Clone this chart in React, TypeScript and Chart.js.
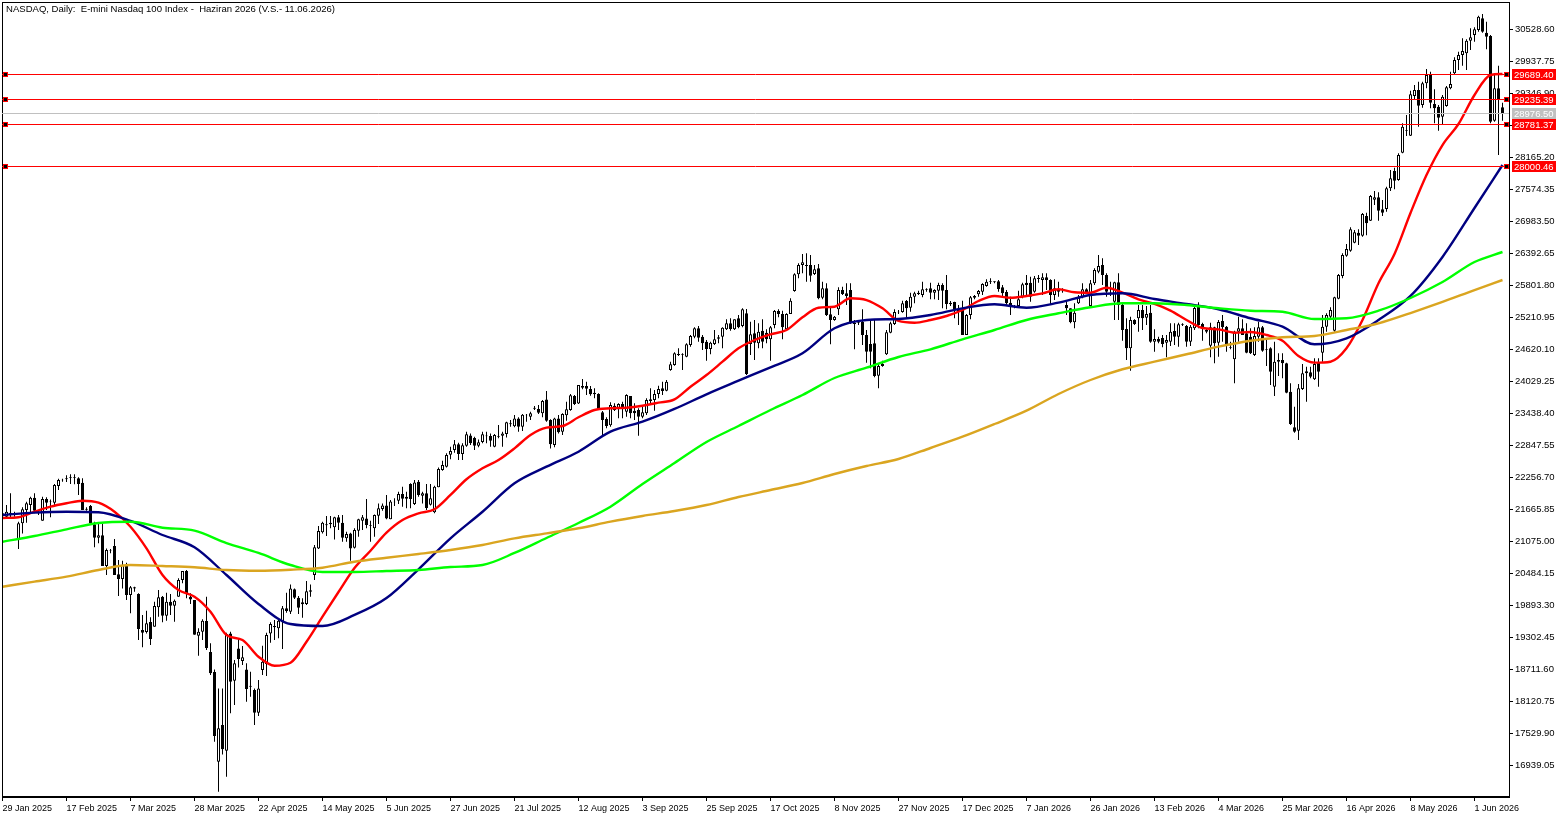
import { useEffect, useRef } from 'react';
import { Chart, registerables } from 'chart.js';

Chart.register(...registerables);

const chartTitle = 'NASDAQ, Daily:  E-mini Nasdaq 100 Index -  Haziran 2026 (V.S.- 11.06.2026)';

// One label every 16 daily bars
const dateLabels = [
  '29 Jan 2025', '17 Feb 2025', '7 Mar 2025', '28 Mar 2025', '22 Apr 2025', '14 May 2025', '5 Jun 2025', '27 Jun 2025',
  '21 Jul 2025', '12 Aug 2025', '3 Sep 2025', '25 Sep 2025', '17 Oct 2025', '8 Nov 2025', '27 Nov 2025', '17 Dec 2025',
  '7 Jan 2026', '26 Jan 2026', '13 Feb 2026', '4 Mar 2026', '25 Mar 2026', '16 Apr 2026', '8 May 2026', '1 Jun 2026',
];

const priceTicks = [
  30528.6, 29937.75, 29346.9, 28756.05, 28165.2, 27574.35, 26983.5, 26392.65, 25801.8, 25210.95, 24620.1, 24029.25,
  23438.4, 22847.55, 22256.7, 21665.85, 21075, 20484.15, 19893.3, 19302.45, 18711.6, 18120.75, 17529.9, 16939.05,
];

const opens = [
  21543,21530,21580,21580,21099,21407,21653,21746,21881,21623,21456,21857,21801,21789,22097,22201,
  22238,22251,22245,22238,22158,21678,21727,21389,21142,21186,20619,20896,20989,20465,20379,20638,
  20083,20225,20102,19437,19400,19585,19498,19856,20053,19702,19960,19886,20053,20360,20527,20053,
  19991,19332,19406,19603,19031,18661,17005,17682,17208,19375,18501,19098,18864,18710,18409,18329,
  17910,18698,18809,19375,19511,19468,19579,19837,19776,20188,20034,19911,19917,20170,20453,20945,
  21241,21389,21389,21333,21518,21419,21130,21222,20958,21272,21456,21499,21376,21315,21549,21672,
  21739,21481,21795,21826,21949,21863,22133,21764,22177,21918,21961,21752,21610,22072,22392,22454,
  22675,22761,22866,22688,22842,23032,22983,22842,22909,23014,23020,22823,23002,23026,23057,23236,
  23199,23346,23192,23402,23377,23543,23519,23439,23697,23316,22854,23346,23100,23402,23500,23759,
  23623,23944,23944,23888,23820,23796,23457,23334,23218,23581,23532,23612,23470,23760,23489,23501,
  23378,23439,23667,23686,23796,23901,23858,24240,24332,24517,24529,24486,24702,24855,25009,24855,
  24763,24628,24720,24819,24855,24991,25102,24991,25194,25053,25286,24720,24917,24732,24966,24929,
  24806,25071,25330,25274,24991,25274,25699,26007,26179,26179,26179,26013,26118,25576,25748,25268,
  25163,25360,25717,25656,25717,25089,25120,25133,24886,24720,24732,24135,24314,24529,24929,25089,
  25305,25311,25514,25391,25594,25644,25625,25736,25748,25668,25705,25810,25717,25483,25496,25360,
  25348,24886,25256,25607,25637,25687,25791,25865,25878,25878,25767,25681,25483,25416,25422,25594,
  25853,25853,25687,25945,25902,25951,25902,25625,25730,25693,25440,25379,25120,25471,25582,25730,
  25422,25841,26056,26179,25994,25650,25502,25859,25440,24997,24640,25163,25194,25348,25206,25299,
  24763,24812,24831,24745,24763,24960,24855,25089,25053,24763,25009,25422,25089,24978,24689,25027,
  24744,25144,25040,24652,24436,24947,25009,24917,24855,24516,24855,25027,24615,24640,23932,24424,
  24424,24362,23839,23180,23119,23888,24178,24196,24067,24375,24560,25040,25224,24966,25557,25976,
  26351,26444,26591,26776,26720,27084,26997,27385,27429,27208,27213,27596,27915,27749,28254,28654,
  28568,29300,29411,29134,29534,29688,29153,29103,28919,29116,29442,29719,29965,30058,30088,30322,
  30427,30519,30735,30470,30409,28845,29442,29091,
];

const highs = [
  21653,21746,21961,21623,21438,21703,21807,21900,21961,21653,21900,21887,21850,22134,22232,22232,
  22294,22312,22312,22257,22238,21703,21746,21438,21395,21395,20945,20933,21118,20730,20718,20681,
  20250,20237,20114,19714,19794,19671,19960,20176,20065,20127,20102,20003,20391,20527,20545,20114,
  19991,19468,19634,20053,19191,18710,18359,18359,19388,19406,18883,19283,19141,18821,18667,18359,
  18513,19148,19388,19579,19622,19634,19880,20127,20280,20206,20065,20022,20342,20280,21007,21358,
  21438,21542,21542,21530,21561,21561,21253,21235,21315,21493,21561,21856,21456,21573,21776,21776,
  21930,21838,21869,21992,22084,21992,22146,22207,22207,21992,22133,22133,22103,22441,22564,22700,
  22823,22946,22897,22885,23100,23069,23008,22958,23100,23100,23069,23057,23223,23100,23285,23316,
  23408,23365,23426,23426,23470,23574,23593,23685,23851,23328,23359,23408,23439,23654,23796,23777,
  23962,24073,24024,23944,23901,23808,23482,23365,23643,23624,23624,23655,23790,23760,23624,23532,
  23562,23716,23901,23870,23950,24024,24055,24394,24566,24640,24548,24732,24886,25028,25053,24886,
  24794,24763,24979,24886,25028,25176,25194,25176,25256,25379,25366,25132,25163,25102,25176,24991,
  25053,25348,25360,25336,25286,25563,26025,26210,26382,26395,26364,26179,26198,25871,25841,25410,
  25237,25767,25779,25841,25841,25163,25163,25360,24979,25163,25163,24351,24412,24979,25133,25360,
  25348,25520,25533,25668,25687,25705,25871,25748,25853,25730,25853,25841,25994,25514,25502,25440,
  25520,25274,25607,25625,25717,25841,25914,25933,25878,25902,25810,25717,25594,25440,25705,25853,
  25994,25964,25976,25994,26025,26025,25914,25914,25871,25748,25533,25379,25471,25625,25841,25748,
  25902,26118,26364,26302,26025,25871,25871,26025,25471,25194,25225,25176,25440,25440,25422,25440,
  24991,24855,24886,24886,25102,25102,25114,25102,25071,25071,25422,25489,25114,25009,25114,25040,
  25163,25255,25052,24763,24966,25224,25175,25101,25009,25027,25132,25052,24806,24658,24763,24547,
  24547,24375,23993,23562,23981,24350,24301,24301,24455,24455,25255,25286,25397,25594,26013,26394,
  26567,26875,26825,26838,27139,27145,27472,27546,27522,27380,27625,27934,27976,28242,28796,28949,
  29399,29504,29565,29565,29799,29750,29423,29134,29319,29485,29750,30014,30119,30365,30347,30550,
  30569,30784,30815,30673,30427,29707,29861,29177,
];

const lows = [
  21500,21518,21518,21530,20933,21222,21419,21592,21592,21561,21456,21653,21518,21715,22023,22177,
  22171,22134,22128,21931,21653,21641,21395,20964,21038,20619,20453,20853,20453,20065,20206,19991,
  19745,20145,19252,19117,19375,19160,19498,19683,19579,19609,19714,19591,20053,20299,20022,19917,
  19351,18963,19252,19068,18606,17374,16451,17140,16728,17898,18052,18747,18790,18113,18206,17682,
  17848,18606,18587,19203,19252,19283,19086,19757,19732,20010,19732,19665,19899,20053,20360,20933,
  21222,21173,21315,21111,21284,21068,21068,20717,20945,21161,21284,21315,21068,21161,21395,21641,
  21481,21481,21727,21764,21715,21684,21684,21746,21900,21776,21653,21739,21592,22072,22380,22441,
  22589,22712,22577,22577,22823,22854,22761,22811,22885,22885,22823,22811,22977,22823,22995,23192,
  23180,23100,23112,23285,23316,23500,23426,23365,23285,22792,22811,23069,23039,23303,23488,23593,
  23611,23882,23777,23765,23716,23500,23020,23162,23193,23482,23347,23347,23378,23347,23316,23027,
  23347,23409,23624,23489,23716,23778,23846,24227,24320,24498,24240,24474,24671,24825,24763,24609,
  24412,24529,24702,24732,24640,24979,24966,24979,25009,25028,24147,24517,24424,24640,24640,24732,
  24412,25009,25213,24806,24979,25274,25687,25933,26025,25871,25871,25994,25545,25545,25237,24714,
  25151,25256,25625,25440,25089,24621,25071,24702,24375,24271,24104,23901,24301,24517,24917,25071,
  25274,25299,25194,25317,25471,25625,25582,25687,25545,25545,25533,25379,25360,25422,25194,25071,
  24886,24886,25176,25545,25594,25625,25779,25828,25841,25687,25594,25440,25256,25379,25410,25563,
  25594,25502,25668,25853,25625,25717,25440,25533,25594,25668,25256,25102,25009,25459,25563,25644,
  25410,25810,26025,25810,25594,25607,25163,25163,24782,24424,24227,25071,24948,24979,25071,24745,
  24578,24732,24658,24474,24683,24702,24671,25053,24671,24683,24978,25009,24781,24917,24473,24362,
  24486,24763,24578,24621,23993,24763,24886,24547,24535,24498,24763,24578,24313,23962,23759,24128,
  24085,23809,23223,23082,22946,23870,23654,24085,24055,23932,24393,24947,25194,24947,25545,25933,
  26333,26425,26579,26548,26702,26728,26992,27287,26997,27084,27163,27546,27577,27736,28241,28561,
  28561,29226,28734,29085,29442,29072,28795,28660,28783,29103,29423,29707,29781,29861,29781,30150,
  30304,30489,30470,30162,28795,28826,28211,28845,
];

const closes = [
  21592,21623,21604,21592,21407,21666,21777,21881,21641,21592,21857,21789,21813,22115,22208,22214,
  22220,22263,22257,22134,21653,21660,21407,21142,21186,20619,20915,20908,20453,20379,20638,20083,
  20225,20206,19455,19388,19560,19271,19880,20040,19702,19960,19886,19979,20360,20527,20114,20003,
  19351,19406,19609,19104,18637,17479,17621,17233,19363,18483,18821,18901,18932,18347,18390,17910,
  18359,18852,19345,19548,19486,19609,19837,19788,20206,20034,19849,19948,20151,20145,20964,21266,
  21419,21370,21419,21518,21419,21142,21210,20945,21284,21481,21518,21376,21364,21561,21684,21739,
  21499,21813,21807,21949,21863,21900,21856,22164,21930,21961,21690,21869,22084,22411,22484,22669,
  22743,22866,22688,22848,23051,22885,22842,22903,23051,23032,22934,23039,23014,23069,23273,23254,
  23346,23192,23414,23414,23439,23525,23451,23667,23303,22866,23346,23088,23426,23513,23771,23611,
  23962,23913,23894,23790,23790,23500,23316,23205,23593,23501,23612,23550,23778,23439,23439,23378,
  23458,23686,23698,23796,23889,23852,24024,24345,24548,24535,24517,24714,24868,25009,24837,24732,
  24628,24745,24806,24843,25022,25102,24997,25176,25028,25360,24166,24899,24745,24948,24763,24806,
  25028,25330,25274,25028,25274,25520,26007,26179,26228,26161,25982,26099,25563,25748,25256,25163,
  25225,25717,25644,25607,25102,25114,25108,24886,24578,24578,24129,24314,24351,24936,25102,25311,
  25317,25471,25379,25594,25656,25668,25730,25724,25668,25717,25810,25705,25459,25453,25360,25317,
  24886,25256,25582,25576,25699,25828,25871,25878,25859,25736,25656,25471,25422,25403,25545,25822,
  25810,25594,25933,25921,25951,25902,25625,25748,25687,25705,25379,25120,25299,25594,25730,25668,
  25841,26087,26161,25994,25687,25668,25859,25440,24979,24640,25163,25089,25348,25194,25274,24763,
  24812,24763,24720,24794,24948,24855,25083,25077,24763,25040,25385,25071,25027,24947,25027,24732,
  25126,25027,24720,24664,24947,25009,24886,24560,24547,24867,25027,24596,24627,24209,24393,24393,
  24362,23821,23242,23100,23901,24178,24215,24116,24350,24209,25040,25255,25348,25582,25994,26364,
  26474,26838,26782,26721,27121,26949,27453,27429,27182,27145,27596,27780,27736,28211,28734,28666,
  29331,29411,29122,29534,29688,29177,29072,28900,29288,29460,29522,29965,30058,30131,30322,30384,
  30532,30766,30489,30396,28826,29442,29239,28976.5,
];

// Moving averages
const maBars = [
  0,8,16,24,32,40,48,56,64,72,80,88,96,104,112,120,128,136,144,152,160,168,176,184,
  192,200,208,216,224,232,240,248,256,264,272,280,288,296,304,312,320,328,336,344,352,360,368,375,
];

// The fast average turns quicker, so it is read every 4th bar
const redBars = [
  0,4,8,12,16,20,24,28,32,36,40,44,48,52,56,60,64,68,72,76,80,84,88,92,
  96,100,104,108,112,116,120,124,128,132,136,140,144,148,152,156,160,164,168,172,176,180,184,188,
  192,196,200,204,208,212,216,220,224,228,232,236,240,244,248,252,256,260,264,268,272,276,280,284,
  288,292,296,300,304,308,312,316,320,324,328,332,336,340,344,348,352,356,360,364,368,372,375,
];

const redMa = [
  21506,21519,21622,21715,21778,21826,21789,21622,21345,20946,20453,20176,20053,19776,19345,19252,18944,18778,18833,19221,19683,20139,20583,20902,
  21235,21469,21593,21667,21931,22221,22424,22577,22793,23039,23174,23205,23366,23501,23532,23543,23580,23636,23698,23931,24147,24393,24640,24794,
  24899,24978,25213,25390,25409,25564,25532,25379,25145,25113,25163,25237,25348,25514,25607,25575,25607,25656,25730,25675,25667,25760,25667,25546,
  25459,25335,25163,25015,24991,24929,24942,24886,24781,24498,24375,24393,24640,25163,25841,26382,27140,27841,28395,28783,29319,29688,29707,
];

const navyMa = [
  21562,21605,21622,21612,21451,21192,20965,20453,19918,19548,19511,19715,20028,20559,21131,21622,
  22147,22454,22731,23100,23285,23520,23791,24042,24290,24548,25010,25163,25182,25255,25379,25453,
  25390,25483,25625,25656,25551,25459,25361,25195,25040,24714,24825,25163,25607,26327,27232,28026,
];

const greenMa = [
  21068,21174,21297,21414,21438,21327,21272,21044,20860,20638,20509,20509,20527,20546,20601,20638,
  20860,21137,21414,21715,22134,22522,22910,23205,23501,23778,24092,24282,24480,24622,24807,24978,
  25163,25287,25398,25472,25472,25440,25379,25335,25316,25182,25195,25335,25570,25865,26234,26419,
];

const goldMa = [
  20237,20330,20422,20546,20638,20619,20596,20546,20533,20551,20588,20699,20773,20841,20915,21007,
  21131,21223,21316,21438,21543,21635,21746,21894,22023,22152,22319,22466,22596,22799,23008,23242,
  23488,23796,24055,24253,24393,24530,24670,24781,24844,24868,24978,25102,25292,25496,25717,25902,
];

const redLevels = [29689.4, 29235.39, 28781.37, 28000.46];
const lastPrice = 28976.5;

const font = '"Liberation Sans", sans-serif';

const levelsPlugin = {
  id: 'levels',
  afterDraw(chart: any) {
    const { ctx, chartArea, scales } = chart;
    const { left, right, top, bottom } = chartArea;
    ctx.save();

    // frame
    ctx.strokeStyle = '#000';
    ctx.lineWidth = 1;
    ctx.strokeRect(left + 0.5, top + 0.5, right - left, bottom - top - 1);

    ctx.font = `9.5px ${font}`;
    ctx.textBaseline = 'middle';
    ctx.textAlign = 'left';

    const drawLevel = (value: number, color: string, markers: boolean) => {
      const y = Math.floor(scales.y.getPixelForValue(value)) + 0.5;
      ctx.strokeStyle = color;
      ctx.beginPath();
      ctx.moveTo(left, y);
      ctx.lineTo(right, y);
      ctx.stroke();
      if (markers) {
        for (const mx of [left + 3.5, right - 2.5]) {
          ctx.fillStyle = color;
          ctx.fillRect(mx - 2.5, y - 2.5, 5, 5);
          ctx.fillStyle = '#000';
          ctx.fillRect(mx - 1.5, y - 1.5, 3, 3);
        }
      }
      ctx.fillStyle = color;
      ctx.fillRect(right + 3, y - 5.5, 44, 11);
      ctx.fillStyle = '#fff';
      ctx.fillText(value.toFixed(2), right + 5, y + 0.5);
    };

    drawLevel(lastPrice, '#C0C0C0', false);
    redLevels.forEach((v) => drawLevel(v, '#FF0000', true));

    ctx.fillStyle = '#000';
    ctx.font = `9.55px ${font}`;
    ctx.fillText(chartTitle, 6, 9);
    ctx.restore();
  },
};

function maDataset(label: string, bars: number[], values: number[], color: string) {
  return {
    type: 'line' as const,
    label,
    data: bars.map((bar, i) => ({ x: bar, y: values[i] })),
    borderColor: color,
    borderWidth: 2.4,
    pointRadius: 0,
    cubicInterpolationMode: 'monotone' as const,
    order: 1,
  };
}

export default function App() {
  const chartRef = useRef<HTMLCanvasElement>(null);

  useEffect(() => {
    if (!chartRef.current) return;
    const ctx = chartRef.current.getContext('2d');
    if (!ctx) return;

    const chart = new Chart(ctx, {
      type: 'bar',
      data: {
        datasets: [
          {
            label: 'Wick',
            data: lows.map((low, i) => ({ x: i, y: [low, highs[i]] })),
            backgroundColor: '#000',
            maxBarThickness: 1,
            barPercentage: 1,
            grouped: false,
            order: 3,
          },
          {
            label: 'Body',
            data: opens.map((open, i) => ({ x: i, y: [open, closes[i]] })),
            backgroundColor: opens.map((open, i) => (closes[i] >= open ? '#fff' : '#000')),
            borderColor: '#000',
            borderWidth: 1,
            borderSkipped: false,
            maxBarThickness: 3,
            barPercentage: 1,
            grouped: false,
            order: 2,
          },
          maDataset('MA gold', maBars, goldMa, '#DAA520'),
          maDataset('MA green', maBars, greenMa, '#00FF00'),
          maDataset('MA navy', maBars, navyMa, '#000080'),
          maDataset('MA red', redBars, redMa, '#FF0000'),
        ] as any,
      },
      options: {
        responsive: false,
        animation: false,
        devicePixelRatio: 1,
        layout: { padding: { left: 2, top: 2, right: 0, bottom: 0 } },
        plugins: {
          legend: { display: false },
          tooltip: { enabled: false },
          title: { display: false },
        },
        scales: {
          x: {
            type: 'linear',
            offset: false,
            min: -0.125,
            max: 376.625,
            afterBuildTicks: (axis: any) => {
              axis.ticks = dateLabels.map((_, i) => ({ value: i * 16 }));
            },
            afterFit: (axis: any) => {
              axis.height = 21;
              axis.paddingLeft = 0;
              axis.paddingRight = 0;
            },
            grid: { offset: false, drawOnChartArea: false, tickLength: 4, tickColor: '#000' },
            border: { color: '#000' },
            ticks: {
              autoSkip: false,
              maxRotation: 0,
              align: 'start',
              padding: 2,
              color: '#000',
              font: { family: font, size: 9 },
              callback: (value: any) => dateLabels[Math.round(value / 16)],
            },
          },
          y: {
            type: 'linear',
            position: 'right',
            min: 16352.9,
            max: 31036.6,
            afterBuildTicks: (axis: any) => {
              axis.ticks = priceTicks.map((value) => ({ value }));
            },
            afterFit: (axis: any) => {
              axis.width = 58;
              axis.paddingTop = 0;
              axis.paddingBottom = 0;
            },
            grid: { drawOnChartArea: false, tickLength: 4, tickColor: '#000' },
            border: { color: '#000' },
            ticks: {
              autoSkip: false,
              padding: 2,
              color: '#000',
              font: { family: font, size: 9.5 },
              callback: (value: any) => Number(value).toFixed(2),
            },
          },
        },
      },
      plugins: [levelsPlugin],
    });

    return () => chart.destroy();
  }, []);

  return (
    <div style={{ position: 'fixed', left: 0, top: 0, width: 1567, height: 818, background: '#fff' }}>
      <canvas ref={chartRef} width={1567} height={818} />
    </div>
  );
}
